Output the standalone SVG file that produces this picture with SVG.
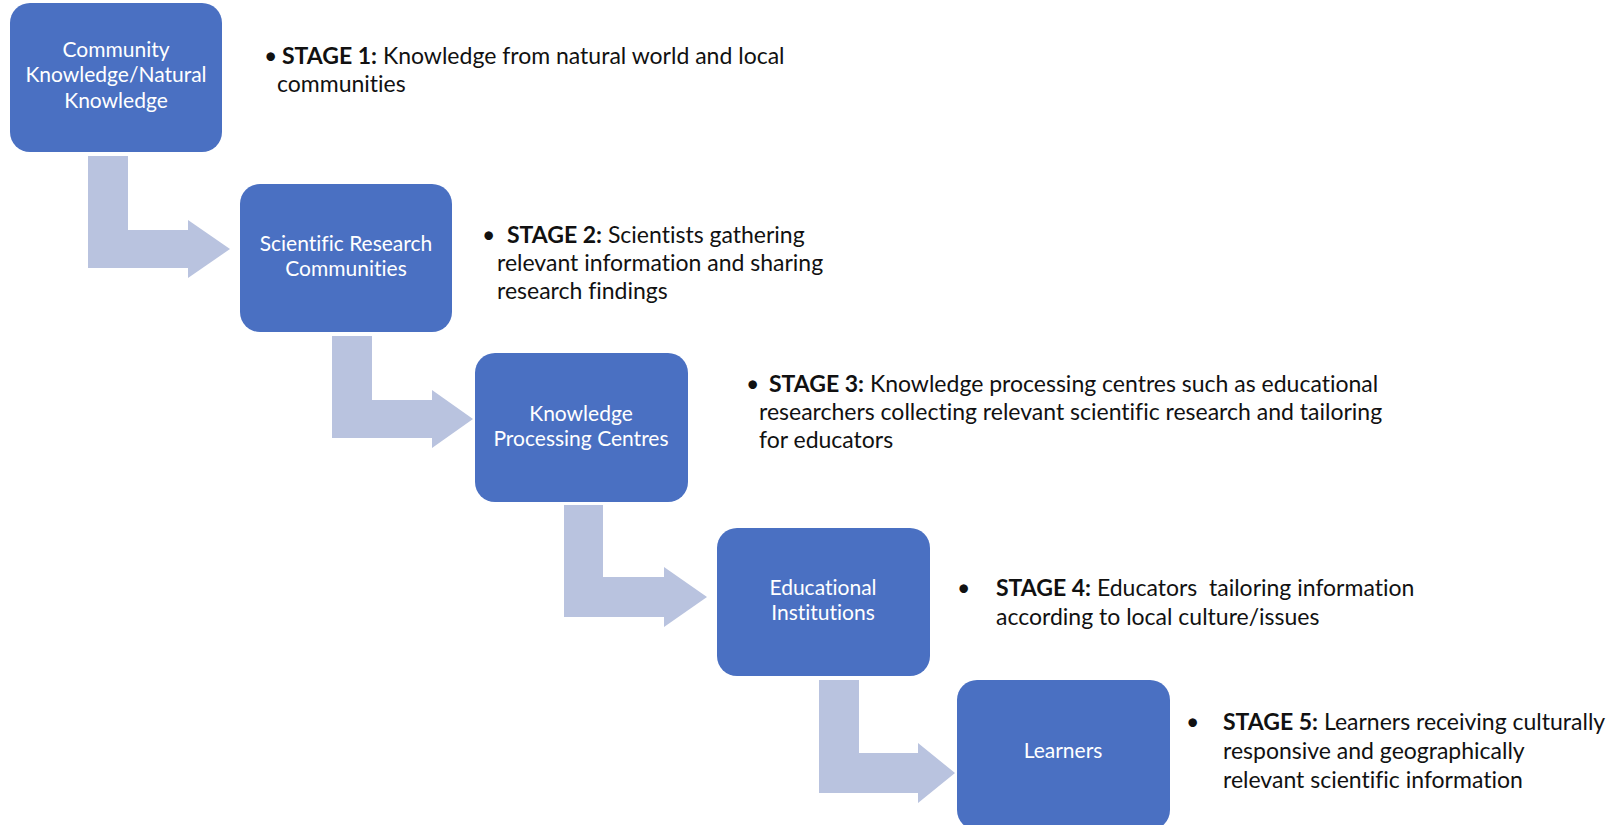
<svg xmlns="http://www.w3.org/2000/svg" width="1620" height="825" viewBox="0 0 1620 825">
<style>
.box{fill:#4A70C2;}
.arr{fill:#B9C3DF;}
.lbl{font-family:Lato,"Liberation Sans",sans-serif;font-size:21px;fill:#ffffff;text-anchor:middle;font-variant-ligatures:none;}
.txt{font-family:Lato,"Liberation Sans",sans-serif;font-size:23px;fill:#111111;font-variant-ligatures:none;}
.b{font-weight:bold;}
</style>
<rect width="1620" height="825" fill="#ffffff"/>
<g id="connectors">
<path class="arr" d="M88,156 H128 V230 H188 V220 L230,249 L188,278 V268 H88 Z"/>
<path class="arr" d="M332,336 H372 V400 H432 V390 L473,419 L432,448 V438 H332 Z"/>
<path class="arr" d="M564,505 H603 V577 H664 V567 L707,597 L664,627 V617 H564 Z"/>
<path class="arr" d="M819,680 H859 V753 H918 V743 L955,773 L918,803 V793 H819 Z"/>
</g>
<g id="node1">
<rect class="box" x="10" y="3" width="212" height="149" rx="20"/>
<text class="lbl" x="116" y="57">Community</text>
<text class="lbl" x="116" y="82">Knowledge/Natural</text>
<text class="lbl" x="116" y="108">Knowledge</text>
</g>
<g id="node2">
<rect class="box" x="240" y="184" width="212" height="148" rx="20"/>
<text class="lbl" x="346" y="251">Scientific Research</text>
<text class="lbl" x="346" y="276">Communities</text>
</g>
<g id="node3">
<rect class="box" x="475" y="353" width="213" height="149" rx="20"/>
<text class="lbl" x="581" y="421">Knowledge</text>
<text class="lbl" x="581" y="446">Processing Centres</text>
</g>
<g id="node4">
<rect class="box" x="717" y="528" width="213" height="148" rx="20"/>
<text class="lbl" x="823" y="595">Educational</text>
<text class="lbl" x="823" y="620">Institutions</text>
</g>
<g id="node5">
<rect class="box" x="957" y="680" width="213" height="150" rx="20"/>
<text class="lbl" x="1063" y="758">Learners</text>
</g>
<g id="stage1">
<text class="txt" x="264" y="64">•</text>
<text class="txt" x="282" y="64"><tspan class="b">STAGE 1:</tspan> Knowledge from natural world and local</text>
<text class="txt" x="277" y="92">communities</text>
</g>
<g id="stage2">
<text class="txt" x="482" y="243">•</text>
<text class="txt" x="507" y="243"><tspan class="b">STAGE 2:</tspan> Scientists gathering</text>
<text class="txt" x="497" y="271">relevant information and sharing</text>
<text class="txt" x="497" y="299">research findings</text>
</g>
<g id="stage3">
<text class="txt" x="746" y="392">•</text>
<text class="txt" x="769" y="392"><tspan class="b">STAGE 3:</tspan> Knowledge processing centres such as educational</text>
<text class="txt" x="759" y="420">researchers collecting relevant scientific research and tailoring</text>
<text class="txt" x="759" y="448">for educators</text>
</g>
<g id="stage4">
<text class="txt" x="957" y="596">•</text>
<text class="txt" x="996" y="596"><tspan class="b">STAGE 4:</tspan> Educators&#160; tailoring information</text>
<text class="txt" x="996" y="625">according to local culture/issues</text>
</g>
<g id="stage5">
<text class="txt" x="1186" y="730">•</text>
<text class="txt" x="1223" y="730"><tspan class="b">STAGE 5:</tspan> Learners receiving culturally</text>
<text class="txt" x="1223" y="759">responsive and geographically</text>
<text class="txt" x="1223" y="788">relevant scientific information</text>
</g>
</svg>
